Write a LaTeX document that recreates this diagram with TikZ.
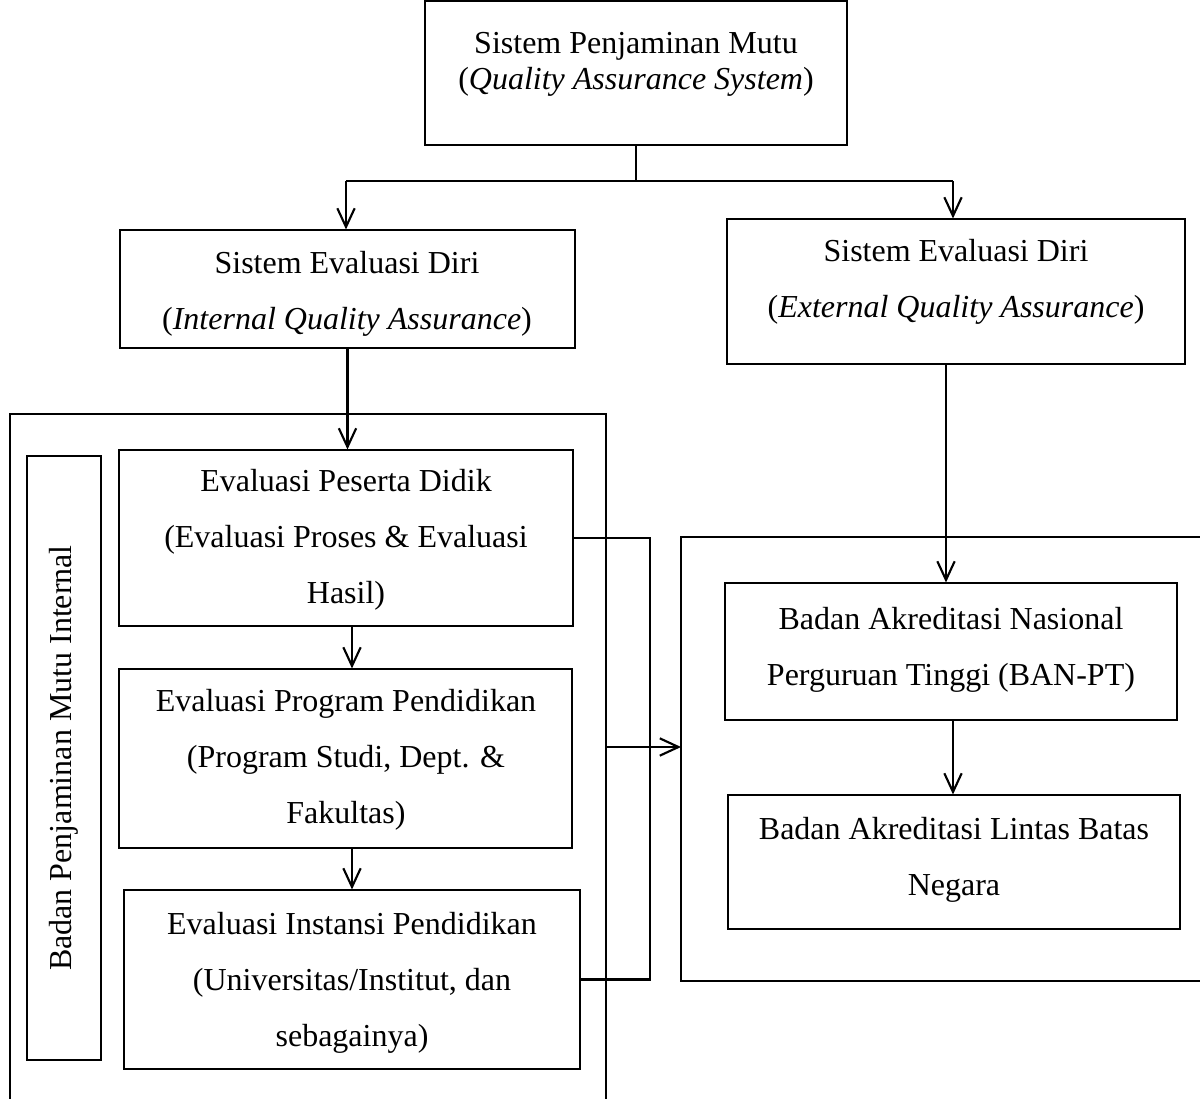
\documentclass[tikz,border=0pt]{standalone}
\usepackage{fontspec}
\setmainfont{Liberation Serif}
\usetikzlibrary{arrows.meta,fit}
\begin{document}
\begin{tikzpicture}[x=0.75pt,y=-0.75pt,
  box/.style={draw, line width=0.8pt, inner sep=0pt},
  txt/.style={align=center, inner sep=0pt, font=\fontsize{24}{42}\selectfont},
  tight/.style={align=center, inner sep=0pt, font=\fontsize{24}{27}\selectfont},
  conn/.style={line width=1.6pt},
  arr/.style={line width=1.6pt, -{Straight Barb[length=14pt,width=13pt]}},
  frame/.style={line width=1.6pt}]
\useasboundingbox (0,0) rectangle (1200,1099);

% top level
\node[box, fit={(425,1) (847,145)}] (top) {};
\node[tight] (topT) at (636,64) {Sistem Penjaminan Mutu\\(\textit{Quality Assurance System})};

% internal / external branches
\node[box, fit={(120,230) (575,348)}] (int) {};
\node[txt] (intT) at (347,294) {Sistem Evaluasi Diri\\(\textit{Internal Quality Assurance})};
\node[box, fit={(727,219) (1185,364)}] (ext) {};
\node[txt] (extT) at (956,282) {Sistem Evaluasi Diri\\(\textit{External Quality Assurance})};

\coordinate (jL) at (346,181);
\coordinate (jR) at (953,181);
\draw[conn] (top.south) -- (top.south |- jL);
\draw[conn] (jL) -- (jR);
\draw[arr] (jL) -- (int.north -| jL);
\draw[arr] (jR) -- (ext.north -| jR);

% internal quality assurance body
\draw[frame] (10,1099) coordinate (lcBL) -- (10,414) -- (606,414) -- (606,1099) coordinate (lcBR);
\node[box, fit={(27,456) (101,1060)}] (bpmi) {};
\node[rotate=90, inner sep=0pt, font=\fontsize{24}{27}\selectfont] (bpmiT) at (64,758) {Badan Penjaminan Mutu Internal};

\node[box, fit={(119,450) (573,626)}] (pes) {};
\node[txt] (pesT) at (346,540) {Evaluasi Peserta Didik\\(Evaluasi Proses \& Evaluasi\\Hasil)};
\node[box, fit={(119,669) (572,848)}] (prog) {};
\node[txt] (progT) at (346,760) {Evaluasi Program Pendidikan\\(Program Studi, Dept. \&\\Fakultas)};
\node[box, fit={(124,890) (580,1069)}] (inst) {};
\node[txt] (instT) at (352,983) {Evaluasi Instansi Pendidikan\\(Universitas/Institut, dan\\sebagainya)};

\coordinate (ax) at (352,0);
\draw[arr] (int.south) -- (int.south |- pes.north);
\draw[arr] (pes.south -| ax) -- (prog.north -| ax);
\draw[arr] (prog.south -| ax) -- (inst.north -| ax);

% bracket joining the internal evaluations
\coordinate (bx) at (650,0);
\draw[conn] (pes.east) -- (pes.east -| bx) -- (inst.east -| bx) -- (inst.east);

% external quality assurance body
\draw[frame] (1200,537) -- (681,537) coordinate (rcTL) -- (681,981) -- (1200,981);
\coordinate (lcR) at (606,747);
\coordinate (rcL) at (681,747);
\draw[arr] (lcR) -- (rcL);

\node[box, fit={(725,583) (1177,720)}] (ban) {};
\node[txt] (banT) at (951,650) {Badan Akreditasi Nasional\\Perguruan Tinggi (BAN-PT)};
\node[box, fit={(728,795) (1180,929)}] (lintas) {};
\node[txt] (lintasT) at (954,860) {Badan Akreditasi Lintas Batas\\Negara};

\coordinate (ex) at (946,0);
\coordinate (bnx) at (953,0);
\draw[arr] (ext.south -| ex) -- (ban.north -| ex);
\draw[arr] (ban.south -| bnx) -- (lintas.north -| bnx);
\end{tikzpicture}
\end{document}
